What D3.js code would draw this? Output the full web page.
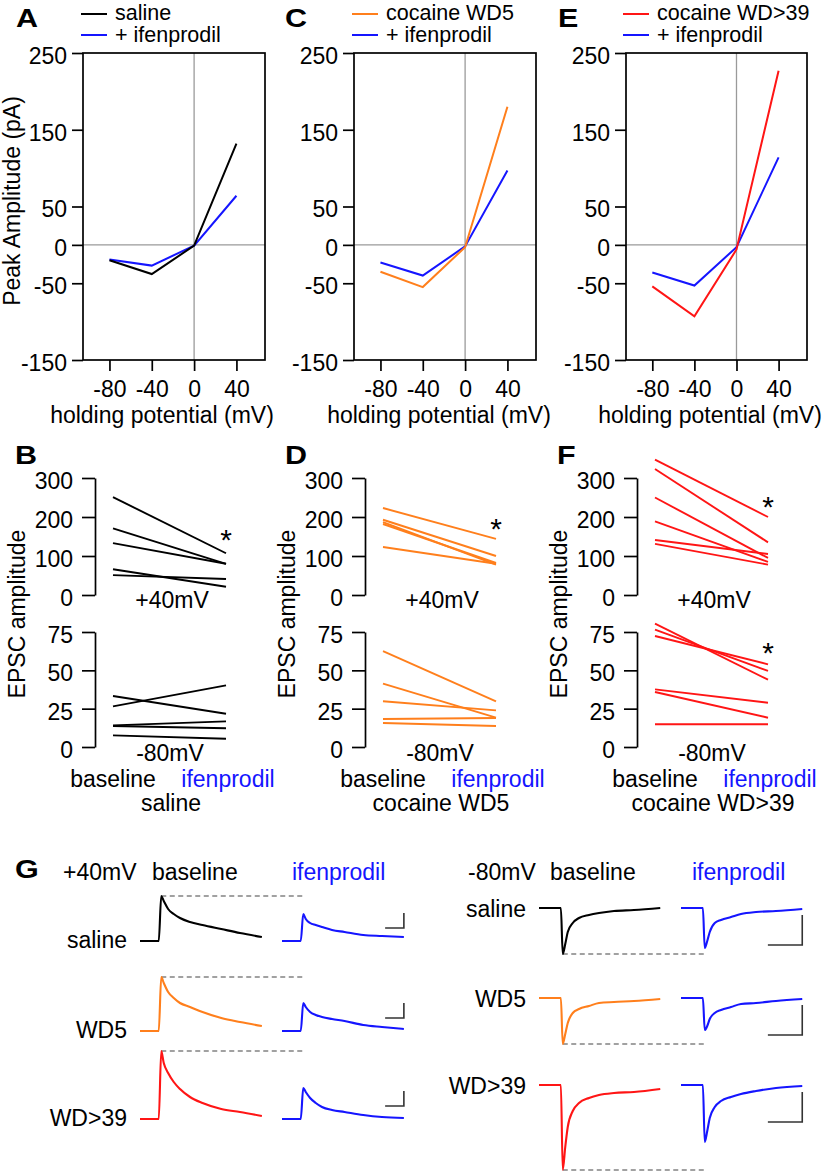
<!DOCTYPE html>
<html><head><meta charset="utf-8">
<script src="https://cdn.jsdelivr.net/npm/d3@7"></script>
<style>
body{margin:0;background:#fff}
svg{display:block}
text{font-family:"Liberation Sans",Arial,Helvetica,sans-serif;font-size:23px;fill:#000}
</style>
</head><body>
<svg id="c" width="828" height="1174"></svg>
<script>
// ---------------- DATA ----------------
// I-V curves (A, C, E)
const holdingPotentials = [-80, -40, 0, 40];
const ivTicksY = [250, 150, 50, 0, -50, -150];
const salineIV      = [-20, -38, -1, 132];
const salineIfenIV  = [-19, -27, -1, 64];
const wd5IV         = [-35, -55, -3, 180];
const wd5IfenIV     = [-23, -40, -2, 97];
const wd39IV        = [-54, -93, -6, 227];
const wd39IfenIV    = [-36, -53, -3, 114];

// paired EPSC amplitudes [baseline, ifenprodil] (B, D, F)
const pairConditions = ["baseline", "ifenprodil"];
const pairTicksP40 = [0, 100, 200, 300];
const pairTicksN80 = [0, 25, 50, 75];
const salineP40 = [[251,107],[171,80],[133,80],[66,21],[51,41]];
const salineN80 = [[33.3,21.7],[26.5,40.2],[14.1,16.7],[13.7,12.2],[7.6,5.4]];
const wd5P40    = [[223,144],[193,100],[187,78],[182,82],[123,80]];
const wd5N80    = [[62.6,29.8],[41.3,19.1],[29.8,23.9],[18.3,18.9],[15.7,13.7]];
const wd39P40   = [[347,200],[323,135],[250,95],[189,85],[141,105],[131,78]];
const wd39N80   = [[80.4,43.9],[76.5,49.6],[72.4,53.9],[37.6,28.9],[35.9,19.1],[14.8,14.8]];

// example traces (G): time in ms, current in pA relative to holding current
const traceTimeP40 = [0, 30, 34, 38, 45, 54, 64, 80, 100, 130, 160, 195];
const traceTimeN80 = [0, 35, 38, 42, 46, 54, 64, 80, 96, 120, 152, 194];
const salineP40Base = [0,0,180,160,128,108,92,76,64,48,32,16];
const salineP40Ifen = [0,0,108,88,72,64,56,44,36,24,20,16];
const wd5P40Base    = [0,0,216,192,156,132,112,96,76,52,36,20];
const wd5P40Ifen    = [0,0,112,96,76,64,56,48,40,24,16,8];
const wd39P40Base   = [0,0,272,224,184,148,120,88,64,40,28,12];
const wd39P40Ifen   = [0,0,124,108,84,64,48,36,28,16,8,4];
const salineN80Base = [0,0,-184,-144,-96,-60,-40,-28,-20,-12,-8,0];
const salineN80Ifen = [0,0,-160,-132,-96,-60,-48,-36,-24,-16,-12,-4];
const wd5N80Base    = [0,0,-184,-144,-100,-60,-44,-32,-20,-16,-12,-4];
const wd5N80Ifen    = [0,0,-128,-112,-84,-60,-48,-36,-24,-20,-12,-4];
const wd39N80Base   = [0,0,-340,-248,-168,-104,-72,-52,-40,-32,-28,-16];
const wd39N80Ifen   = [0,0,-228,-184,-132,-88,-64,-48,-36,-24,-12,-4];
const scaleBarP40 = {ms: 30, pA: 60};
const scaleBarN80 = {ms: 55, pA: 120};

// ---------------- DRAWING ----------------
const COL = {saline:"#000000", wd5:"#ff7f1c", wd39:"#ff1515", ifen:"#1515ff"};
const svg = d3.select("#c");

function txt(x, y, s, o = {}) {
  const t = svg.append("text").attr("x", x).attr("y", y).text(s);
  if (o.anchor) t.attr("text-anchor", o.anchor);
  if (o.fill) t.style("fill", o.fill);
  if (o.size) t.style("font-size", o.size + "px");
  if (o.weight) t.style("font-weight", o.weight);
  if (o.rotate) t.attr("transform", `rotate(-90,${x},${y})`);
  return t;
}
function panelLetter(x, y, s) {
  svg.append("text").attr("transform", `translate(${x},${y}) scale(1.22,1)`)
    .style("font-size", "25px").style("font-weight", "bold").text(s);
}
function styleAxis(a, width) {
  a.attr("font-size", null).attr("font-family", null);
  a.selectAll("line").attr("stroke", "#000").attr("stroke-width", width);
  a.selectAll("path").attr("stroke", "#000").attr("stroke-width", width);
  a.selectAll("text").style("font-size", "23px").style("fill", "#000");
}

// ---- I-V panels ----
const ivPanels = [
  {letter:"A", x0:83,  x1:265, base:salineIV, ifen:salineIfenIV, color:COL.saline, legend:"saline",        legX:81,  letterX:16,  xtitle:162},
  {letter:"C", x0:354, x1:536, base:wd5IV,    ifen:wd5IfenIV,    color:COL.wd5,    legend:"cocaine WD5",   legX:352, letterX:285, xtitle:439},
  {letter:"E", x0:626, x1:807, base:wd39IV,   ifen:wd39IfenIV,   color:COL.wd39,   legend:"cocaine WD>39", legX:623, letterX:558, xtitle:710}
];
const ivTop = 53, ivBot = 360;
ivPanels.forEach(p => {
  const x = d3.scaleLinear().domain([-105, 67]).range([p.x0, p.x1]);
  const y = d3.scaleLinear().domain([-150, 250]).range([ivBot, ivTop]);
  svg.append("line").attr("x1", x(0)).attr("x2", x(0)).attr("y1", ivTop).attr("y2", ivBot)
    .attr("stroke", "#9a9a9a").attr("stroke-width", 1.3);
  svg.append("line").attr("x1", p.x0).attr("x2", p.x1).attr("y1", y(0)).attr("y2", y(0))
    .attr("stroke", "#9a9a9a").attr("stroke-width", 1.3);
  svg.append("rect").attr("x", p.x0).attr("y", ivTop).attr("width", p.x1 - p.x0).attr("height", ivBot - ivTop)
    .attr("fill", "none").attr("stroke", "#000").attr("stroke-width", 1.7);
  const ya = svg.append("g").attr("transform", `translate(${p.x0},0)`)
    .call(d3.axisLeft(y).tickValues(ivTicksY).tickFormat(d => String(d)).tickSize(11).tickPadding(5));
  ya.select(".domain").remove();
  styleAxis(ya, 1.7);
  ya.selectAll("text").attr("dy", "0.45em");
  const xa = svg.append("g").attr("transform", `translate(0,${ivBot})`)
    .call(d3.axisBottom(x).tickValues(holdingPotentials).tickFormat(d => String(d)).tickSize(11).tickPadding(10));
  xa.select(".domain").remove();
  styleAxis(xa, 1.7);
  const line = d3.line().x((d, i) => x(holdingPotentials[i])).y(d => y(d));
  svg.append("path").datum(p.ifen).attr("d", line).attr("fill", "none").attr("stroke", COL.ifen).attr("stroke-width", 2);
  svg.append("path").datum(p.base).attr("d", line).attr("fill", "none").attr("stroke", p.color).attr("stroke-width", 2);
  // legend
  svg.append("line").attr("x1", p.legX).attr("x2", p.legX + 26).attr("y1", 14).attr("y2", 14).attr("stroke", p.color).attr("stroke-width", 2);
  svg.append("line").attr("x1", p.legX).attr("x2", p.legX + 26).attr("y1", 35).attr("y2", 35).attr("stroke", COL.ifen).attr("stroke-width", 2);
  txt(p.legX + 34, 20, p.legend, {size:21.5});
  txt(p.legX + 34, 42, "+ ifenprodil", {size:21.5});
  panelLetter(p.letterX, 27, p.letter);
  txt(p.xtitle, 423, "holding potential (mV)", {anchor:"middle"});
});
txt(20, 201, "Peak Amplitude (pA)", {anchor:"middle", rotate:true});

// ---- paired panels ----
const pairPanels = [
  {letter:"B", ax:95,  up:salineP40, low:salineN80, color:COL.saline, group:"saline",        letterX:15,  stars:[["up",159]]},
  {letter:"D", ax:365, up:wd5P40,    low:wd5N80,    color:COL.wd5,    group:"cocaine WD5",   letterX:285, stars:[["up",187]]},
  {letter:"F", ax:637, up:wd39P40,   low:wd39N80,   color:COL.wd39,   group:"cocaine WD>39", letterX:557, stars:[["up",244],["low",66]]}
];
pairPanels.forEach(p => {
  const x = d3.scalePoint().domain(pairConditions).range([p.ax + 18, p.ax + 131]);
  const yUp = d3.scaleLinear().domain([0, 300]).range([595, 478]);
  const yLow = d3.scaleLinear().domain([0, 75]).range([747, 632]);
  [[yUp, pairTicksP40, p.up], [yLow, pairTicksN80, p.low]].forEach(([y, ticks, data]) => {
    const a = svg.append("g").attr("transform", `translate(${p.ax},0)`)
      .call(d3.axisLeft(y).tickValues(ticks).tickFormat(d => String(d)).tickSize(13).tickSizeOuter(0).tickPadding(9));
    styleAxis(a, 1.7);
    a.selectAll("text").attr("dy", "0.45em");
    const line = d3.line().x((d, i) => x(pairConditions[i])).y(d => y(d));
    svg.append("g").selectAll("path").data(data).join("path")
      .attr("d", line).attr("fill", "none").attr("stroke", p.color).attr("stroke-width", 1.9);
  });
  p.stars.forEach(([which, v]) => {
    const y = which === "up" ? yUp : yLow;
    txt(x("ifenprodil"), y(v) + 17, "*", {anchor:"middle", size:30});
  });
  txt(p.ax + 77, 608, "+40mV", {anchor:"middle"});
  txt(p.ax + 75, 761, "-80mV", {anchor:"middle"});
  txt(x("baseline"), 787, "baseline", {anchor:"middle"});
  txt(x("ifenprodil") + 2, 787, "ifenprodil", {anchor:"middle", fill:COL.ifen});
  txt(p.ax + 76, 811, p.group, {anchor:"middle"});
  txt(p.ax - 70, 614, "EPSC amplitude", {anchor:"middle", rotate:true});
  panelLetter(p.letterX, 464, p.letter);
});

// ---- traces (G) ----
panelLetter(15, 878, "G");
txt(63, 880, "+40mV");
txt(152, 880, "baseline");
txt(292, 880, "ifenprodil", {fill:COL.ifen});
txt(468, 880, "-80mV");
txt(550, 880, "baseline");
txt(692, 880, "ifenprodil", {fill:COL.ifen});

const tx = d3.scaleLinear().domain([0, 1.6]).range([0, 1]);   // ms -> px
const ty = d3.scaleLinear().domain([0, 4]).range([0, -1]);    // pA -> px
const rows = [
  {label:"saline", color:COL.saline, p40:[salineP40Base, salineP40Ifen], n80:[salineN80Base, salineN80Ifen], yP:941,  yN:908},
  {label:"WD5",    color:COL.wd5,    p40:[wd5P40Base, wd5P40Ifen],       n80:[wd5N80Base, wd5N80Ifen],       yP:1031, yN:998},
  {label:"WD>39",  color:COL.wd39,   p40:[wd39P40Base, wd39P40Ifen],     n80:[wd39N80Base, wd39N80Ifen],     yP:1119, yN:1085}
];
const P40 = {base:140, ifen:282}, N80 = {base:539, ifen:681};

function trace(x0, y0, times, vals, color) {
  const line = d3.line().x((d, i) => x0 + tx(times[i])).y(d => y0 + ty(d)).curve(d3.curveMonotoneX);
  svg.append("path").datum(vals).attr("d", line).attr("fill", "none")
    .attr("stroke", color).attr("stroke-width", 2.1).attr("stroke-linejoin", "round");
}
function scaleBar(cx, cy, sb) {
  svg.append("path")
    .attr("d", `M${cx - tx(sb.ms)},${cy}H${cx}V${cy + ty(sb.pA)}`)
    .attr("fill", "none").attr("stroke", "#333").attr("stroke-width", 1.6);
}
rows.forEach(r => {
  // +40 mV
  txt(127, r.yP + 7, r.label, {anchor:"end"});
  const pk = d3.max(r.p40[0]);
  svg.append("line").attr("x1", P40.base + tx(34)).attr("x2", P40.ifen + tx(38))
    .attr("y1", r.yP + ty(pk)).attr("y2", r.yP + ty(pk))
    .attr("stroke", "#444").attr("stroke-width", 1.2).attr("stroke-dasharray", "5,3.5");
  trace(P40.base, r.yP, traceTimeP40, r.p40[0], r.color);
  trace(P40.ifen, r.yP, traceTimeP40, r.p40[1], COL.ifen);
  scaleBar(P40.ifen + tx(195), r.yP + ty(52), scaleBarP40);
  // -80 mV
  txt(526, r.yN + 9, r.label, {anchor:"end"});
  const tr = d3.min(r.n80[0]);
  svg.append("line").attr("x1", N80.base + tx(38)).attr("x2", N80.ifen + tx(42))
    .attr("y1", r.yN + ty(tr)).attr("y2", r.yN + ty(tr))
    .attr("stroke", "#444").attr("stroke-width", 1.2).attr("stroke-dasharray", "5,3.5");
  trace(N80.base, r.yN, traceTimeN80, r.n80[0], r.color);
  trace(N80.ifen, r.yN, traceTimeN80, r.n80[1], COL.ifen);
  scaleBar(N80.ifen + tx(194), r.yN + ty(-148), scaleBarN80);
});
</script>
</body></html>
